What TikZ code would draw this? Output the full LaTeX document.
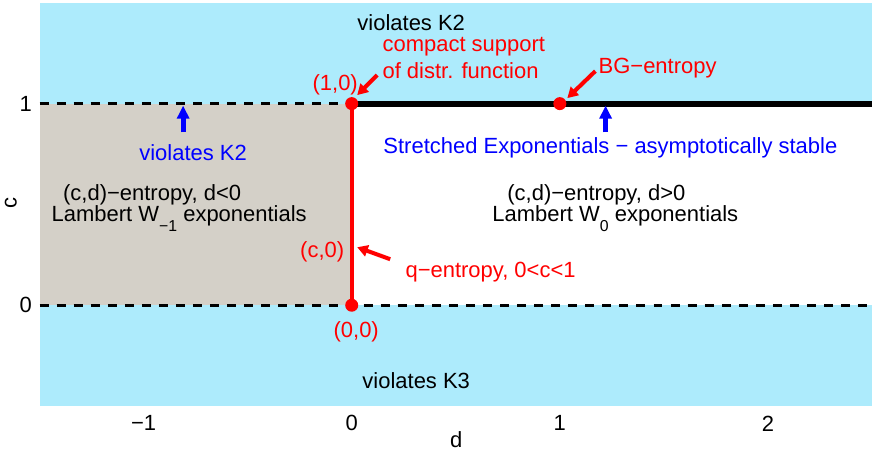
\documentclass[tikz,border=0pt]{standalone}
\usepackage{fontspec}
\setmainfont{Liberation Sans}
\usetikzlibrary{arrows.meta}
\definecolor{kblue}{RGB}{173,235,252}
\definecolor{wgray}{RGB}{212,208,200}
\newcommand{\lsub}[1]{\raisebox{-5.5pt}{\fontsize{9}{9}\selectfont #1}}

\begin{document}
\begin{tikzpicture}[x=4.16cm,y=4.03cm,font=\fontsize{12.5}{15}\selectfont]
    \tikzset{vertex/.style = {shape=circle,fill=red,inner sep=0pt,minimum size=0.26cm}}
    \tikzset{lab/.style = {inner sep=0pt}}
    \tikzset{labr/.style = {lab,text=red}}
    \tikzset{labb/.style = {lab,text=blue}}
    \tikzset{edge/.style = {red,line width=2.3pt,-{Triangle[length=6pt,width=6.5pt]}}}
    \tikzset{edge2/.style = {blue,line width=2.8pt,-{Triangle[length=7.4pt,width=6.8pt]}}}
    \tikzset{border/.style = {line width=1.7pt,dash pattern=on 5.1pt off 4.6pt}}

    \useasboundingbox (-1.690,-0.7295) rectangle (2.5,1.514);

    % regions
    \fill[kblue] (-1.5,-0.5) rectangle (2.5,1.5);
    \fill[wgray] (-1.5,0) rectangle (0,1);
    \fill[white] (0,0) rectangle (2.5,1);

    % corners
    \coordinate (l1) at (-1.5,1);
    \coordinate (r1) at (2.5,1);
    \coordinate (l0) at (-1.5,0);
    \coordinate (r0) at (2.5,0);
    \coordinate (m1) at (0,1);
    \coordinate (m0) at (0,0);

    \draw[border] (l1) -- (m1);
    \draw[border] (l0) -- (r0);
    \draw[line width=3.4pt] (m1) -- (r1);
    \draw[red,line width=2.3pt] (m0) -- (m1);

    % vertices
    \node[vertex] (p10) at (m1) {};
    \node[vertex] (p00) at (m0) {};
    \node[vertex] (bg) at (1,1) {};

    % labels
    \node[lab] (k2top) at (0.286,1.3995) {violates K2};
    \node[labr,anchor=west] (cs1) at (0.1466,1.2804) {compact support};
    \node[labr,anchor=west] (cs2) at (0.1466,1.1613) {of distr. function};
    \node[labr] (t10) at (-0.0793,1.0918) {(1,0)};
    \node[labr,anchor=west] (bgt) at (1.185,1.176) {BG−entropy};
    \node[labb] (k2l) at (-0.762,0.759) {violates K2};
    \node[labb] (str) at (1.243,0.779) {Stretched Exponentials − asymptotically stable};
    \node[lab] (neg1) at (-0.959,0.546) {(c,d)−entropy, d<0};
    \node[lab] (neg2) at (-0.829,0.4287) {Lambert W\lsub{−1} exponentials};
    \node[lab] (pos1) at (1.1755,0.546) {(c,d)−entropy, d>0};
    \node[lab] (pos2) at (1.2668,0.4287) {Lambert W\lsub{0} exponentials};
    \node[labr] (tc0) at (-0.1418,0.263) {(c,0)};
    \node[labr,anchor=west] (qt) at (0.257,0.1638) {q−entropy, 0<c<1};
    \node[labr] (t00) at (0.0216,-0.134) {(0,0)};
    \node[lab] (k3) at (0.31,-0.372) {violates K3};

    % arrows
    \coordinate (csa) at (0.1226,1.1414);
    \coordinate (csb) at (0.0264,1.0422);
    \coordinate (bga) at (1.1707,1.1613);
    \coordinate (bgb) at (1.036,1.0273);
    \coordinate (qa) at (0.185,0.2283);
    \coordinate (qb) at (0.0264,0.2878);
    \coordinate (ka) at (-0.81,0.858);
    \coordinate (kb) at (-0.81,0.99);
    \coordinate (sa) at (1.22,0.858);
    \coordinate (sb) at (1.22,0.99);
    \draw[edge] (csa) to (csb);
    \draw[edge] (bga) to (bgb);
    \draw[edge] (qa) to (qb);
    \draw[edge2] (ka) to (kb);
    \draw[edge2] (sa) to (sb);

    % axes
    \foreach \d/\t in {-1/−1,0/0,1/1,2/2}
        \node[lab] (xt\d) at (\d,-0.586) {\t};
    \node[lab,anchor=east] (yt1) at (-1.535,1) {1};
    \node[lab,anchor=east] (yt0) at (-1.535,0) {0};
    \node[lab] (xl) at (0.5024,-0.668) {d};
    \node[lab,rotate=90] (yl) at (-1.638,0.506) {c};
\end{tikzpicture}
\end{document}
